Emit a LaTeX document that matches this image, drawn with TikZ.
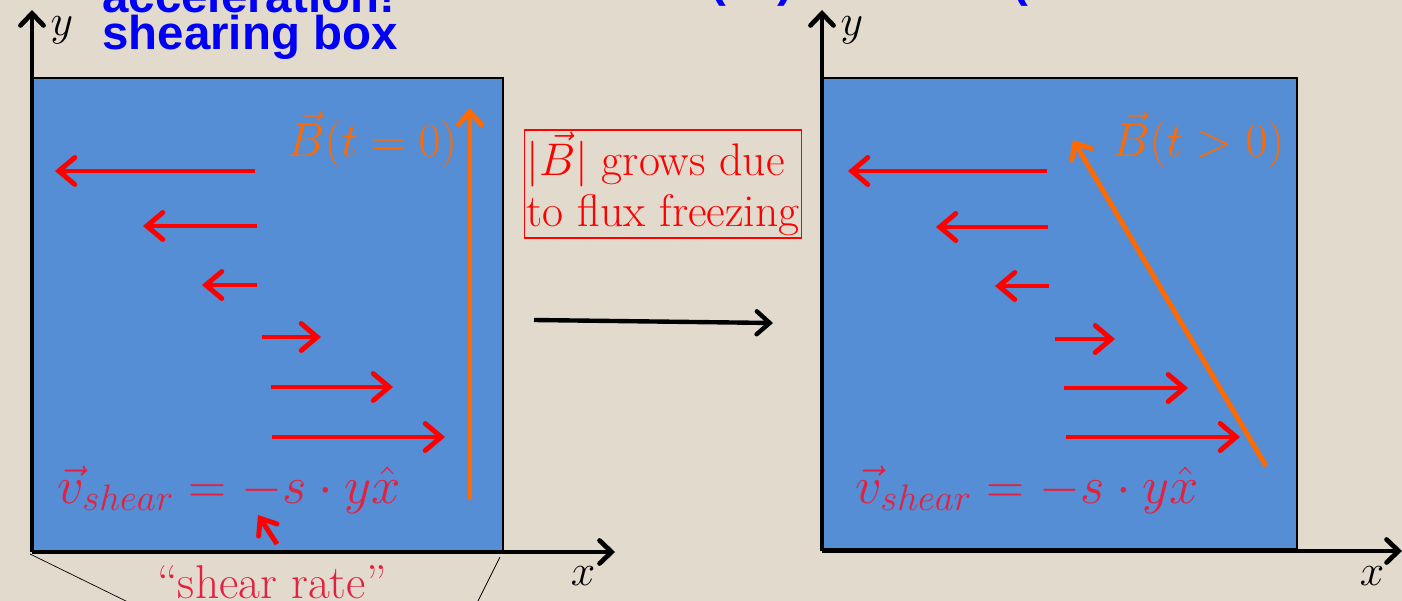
\RequirePackage{fix-cm}
\documentclass[tikz,border=0pt]{standalone}
\usepackage{fontspec}
\newfontfamily\titlefont{Liberation Sans}
\usetikzlibrary{arrows.meta}
\definecolor{paper}{HTML}{E2DBCD}
\definecolor{boxblue}{HTML}{558ED4}
\definecolor{shear}{HTML}{FF0000}
\definecolor{field}{HTML}{FF6A00}
\definecolor{labelred}{HTML}{E42040}
\definecolor{titleblue}{HTML}{0000F5}

\begin{document}
\begin{tikzpicture}[
  x=0.02cm, y=-0.02cm,
  panel/.style={draw=black, line width=.6pt, fill=boxblue},
  axis/.style={-{Straight Barb[length=2.4mm,width=4.6mm,line cap=round]}, line width=2.7pt, black},
  velo/.style={-{Straight Barb[length=3.2mm,width=5.4mm,line cap=round]}, line width=2.8pt, draw=shear},
  bfield/.style={-{Straight Barb[length=2.6mm,width=4.6mm,line cap=round]}, line width=2.8pt, draw=field},
  flow/.style={-{Straight Barb[length=2.6mm,width=4.6mm,line cap=round]}, line width=2.5pt, black},
  axlabel/.style={font=\fontsize{25}{28}\selectfont},
  blabel/.style={text=field, font=\fontsize{27}{32}\selectfont, inner sep=0pt},
  vlabel/.style={text=labelred, font=\fontsize{30}{35}\selectfont, inner sep=0pt},
  title/.style={text=titleblue, font=\titlefont\bfseries\fontsize{27}{30}\selectfont, inner sep=0pt}
]
  \fill[paper] (0,0) rectangle (1402,601);
  \clip (0,0) rectangle (1402,601);

  % title (cut off at the top)
  \node[title, anchor=base west] (title1) at (102,13) {acceleration!};
  \node[title, anchor=base west] (title2) at (102,50) {shearing box};
  \node[title, anchor=base] (par1) at (718,-3) {(};
  \node[title, anchor=base] (par2) at (785,-3) {)};
  \node[title, anchor=base] (par3) at (1020,-3) {(};

  % left panel: t = 0
  \draw[panel] (32,78) rectangle (503,551);
  \coordinate (oL) at (32,552);
  \coordinate (yL) at (32,10);
  \coordinate (xL) at (615,552);
  \draw[axis] (oL) -- (yL);
  \draw[axis] (oL) -- (xL);
  \node[axlabel] (ylabL) at (62,30) {$y$};
  \node[axlabel] (xlabL) at (583,576) {$x$};
  \draw[black, thin] (30,554) -- (130,603);
  \draw[black, thin] (500,557) -- (477,603);

  \foreach \ya/\xs/\xe in {171/255/55, 226/257/143, 285/257/202, 337/262/321, 387/271/393, 437/272/445}
    \draw[velo] (\xs,\ya) -- (\xe,\ya);

  \coordinate (b0s) at (470,500);
  \coordinate (b0e) at (470,108);
  \draw[bfield] (b0s) -- (b0e);
  \node[blabel] (b0lab) at (372,140) {$\vec{B}(t=0)$};

  \node[vlabel, anchor=base west] (vL) at (57,503) {$\vec{v}_{shear}=-s\cdot y\hat{x}$};
  \node[vlabel, anchor=base, font=\fontsize{27}{31}\selectfont] (rate) at (272,598) {``shear rate''};
  \coordinate (rateTip) at (258,515);
  \draw[shear, line width=2.8pt, -{Straight Barb[length=2.8mm,width=4.4mm,line cap=round]}] (277,544) -- (rateTip);

  % middle
  \coordinate (mA) at (534,320);
  \coordinate (mB) at (773,323);
  \draw[flow] (mA) -- (mB);
  \node[draw=shear, line width=.8pt, text=shear, align=left, inner sep=1pt,
    font=\fontsize{26}{29}\selectfont] (grow) at (663,184) {$|\vec{B}|$ grows due\\to flux freezing};

  % right panel: t > 0
  \draw[panel] (823,78) rectangle (1297,549);
  \coordinate (oR) at (822,551);
  \coordinate (yR) at (822,10);
  \coordinate (xR) at (1402,551);
  \draw[axis] (oR) -- (yR);
  \draw[axis] (oR) -- (xR);
  \node[axlabel] (ylabR) at (852,30) {$y$};
  \node[axlabel] (xlabR) at (1372,576) {$x$};

  \foreach \ya/\xs/\xe in {171/1047/848, 227/1048/936, 286/1049/995, 339/1055/1115, 388/1064/1188, 437/1066/1240}
    \draw[velo] (\xs,\ya) -- (\xe,\ya);

  \coordinate (b1s) at (1266,466);
  \coordinate (b1e) at (1073,140);
  \draw[bfield] (b1s) -- (b1e);
  \node[blabel] (b1lab) at (1198,140) {$\vec{B}(t>0)$};

  \node[vlabel, anchor=base west] (vR) at (855,503) {$\vec{v}_{shear}=-s\cdot y\hat{x}$};
\end{tikzpicture}
\end{document}
